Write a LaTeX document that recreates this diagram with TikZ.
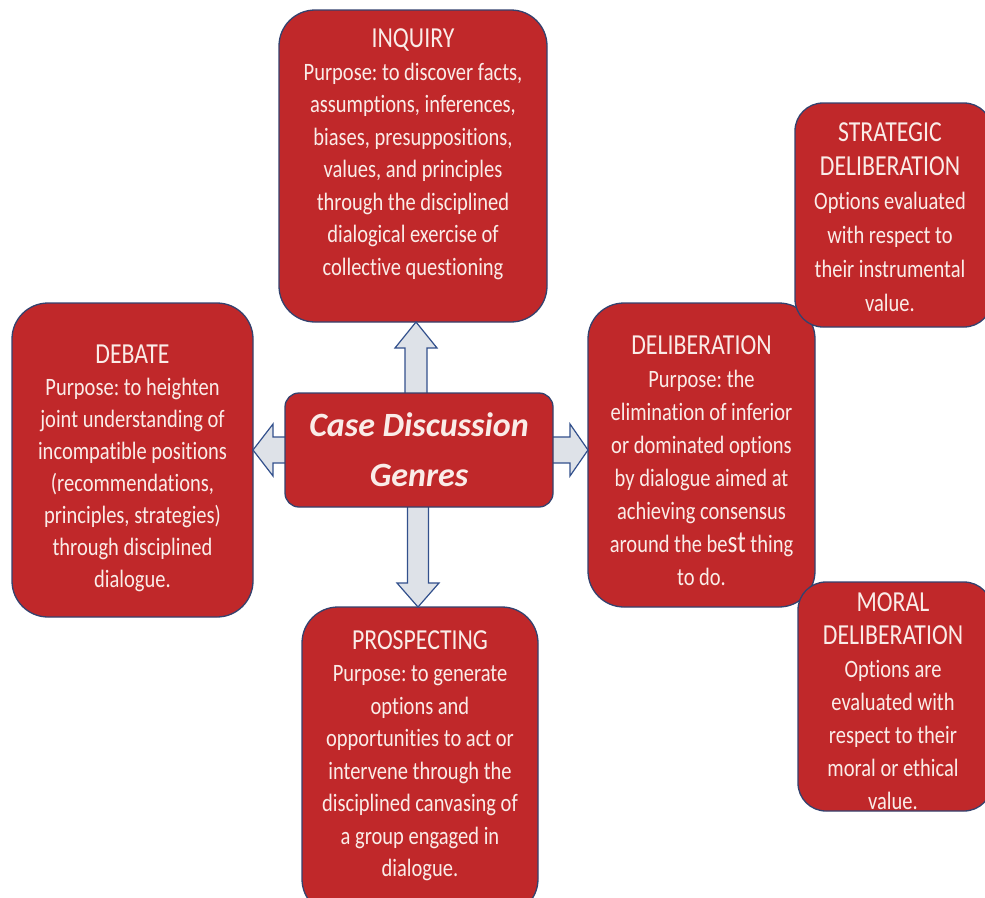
\documentclass[tikz,border=0pt]{standalone}
\usepackage{fontspec}
\setmainfont{Carlito}[FakeStretch=0.82, Ligatures={NoCommon}]
\newfontfamily\centrefont{Carlito}[Ligatures={NoCommon}]
\usetikzlibrary{calc}
\definecolor{boxred}{RGB}{192,40,42}
\definecolor{boxedge}{RGB}{52,66,110}
\definecolor{boxtext}{RGB}{250,236,232}
\definecolor{arrowfill}{RGB}{222,226,232}
\definecolor{arrowedge}{RGB}{50,80,140}
\frenchspacing
\begin{document}
\begin{tikzpicture}[x=1pt,y=-1pt,
  genre/.style={draw=boxedge, line width=1.3pt, fill=boxred, rounded corners=36pt,
    inner sep=0pt, outer sep=0pt},
  genretext/.style={text=boxtext, align=center, inner sep=0pt, anchor=north},
  blockarrow/.style={draw=arrowedge, line width=1.2pt, fill=arrowfill, line join=miter}]
\useasboundingbox (0,0) rectangle (985,897);
\clip (0,0) rectangle (985,897);

% genre boxes
\node[genre, minimum width=268pt, minimum height=312pt] (inq)    at (413,166) {};
\node[genre, minimum width=241pt, minimum height=314pt] (debate) at (132.5,460) {};
\node[genre, minimum width=227pt, minimum height=304pt] (delib)  at (701.5,455) {};
\node[genre, minimum width=236pt, minimum height=308pt] (prosp)  at (420,761) {};
\node[genre, minimum width=197pt, minimum height=224pt, rounded corners=28pt] (strat) at (893.5,215) {};
\node[genre, minimum width=194pt, minimum height=229pt, rounded corners=28pt] (moral) at (895,696.5) {};

% centre box (placed first so the arrows can refer to it, redrawn on top below)
\path (419,450) node[minimum width=268pt, minimum height=114pt, inner sep=0pt, outer sep=0pt] (ctr) {};

% block arrows from the centre box to the genres
\draw[blockarrow] ($(ctr.north)+(-14,4)$) -- ($(inq.south -| ctr.north)+(-14,26)$) -- ++(-10,0)
  -- ($(inq.south -| ctr.north)+(-3,0)$) -- ($(inq.south -| ctr.north)+(18,26)$) -- ++(-10,0)
  -- ($(ctr.north)+(8,4)$) -- cycle;
\draw[blockarrow] ($(ctr.south)+(-11.5,-4)$) -- ($(prosp.north -| ctr.south)+(-11.5,-24)$) -- ++(-10.5,0)
  -- ($(prosp.north -| ctr.south)+(-1,0)$) -- ($(prosp.north -| ctr.south)+(20,-24)$) -- ++(-10.5,0)
  -- ($(ctr.south)+(9.5,-4)$) -- cycle;
\draw[blockarrow] ($(ctr.west)+(4,-13)$) -- ($(debate.east |- ctr.west)+(20,-13)$) -- ++(0,-13)
  -- (debate.east |- ctr.west) -- ($(debate.east |- ctr.west)+(20,26)$) -- ++(0,-13)
  -- ($(ctr.west)+(4,13)$) -- cycle;
\draw[blockarrow] ($(ctr.east)+(-4,-13)$) -- ($(delib.west |- ctr.east)+(-18,-13)$) -- ++(0,-13)
  -- (delib.west |- ctr.east) -- ($(delib.west |- ctr.east)+(-18,26)$) -- ++(0,-13)
  -- ($(ctr.east)+(-4,13)$) -- cycle;

% centre box
\draw[genre, rounded corners=14pt] (ctr.north west) rectangle (ctr.south east);
\node[text=boxtext, align=center, font=\centrefont\fontsize{34}{50}\selectfont\bfseries\itshape] (ctrtext) at (ctr.center)
  {Case Discussion\\Genres};

% genre texts
\node[genretext, font=\fontsize{25}{32.5}\selectfont] (inqtext) at (inq.north |- 0,28.5)
  {{\fontsize{29}{32.5}\selectfont INQUIRY}\\
   Purpose: to discover facts,\\
   assumptions, inferences,\\
   biases, presuppositions,\\
   values, and principles\\
   through the disciplined\\
   dialogical exercise of\\
   collective questioning};

\node[genretext, font=\fontsize{25}{32}\selectfont] (debatetext) at (debate.north |- 0,345)
  {{\fontsize{29}{32}\selectfont DEBATE}\\
   Purpose: to heighten\\
   joint understanding of\\
   incompatible positions\\
   (recommendations,\\
   principles, strategies)\\
   through disciplined\\
   dialogue.};

\node[genretext, font=\fontsize{25}{33}\selectfont] (delibtext) at (delib.north |- 0,335)
  {{\fontsize{29}{33}\selectfont DELIBERATION}\\
   Purpose: the\\
   elimination of inferior\\
   or dominated options\\
   by dialogue aimed at\\
   achieving consensus\\
   around the be{\fontsize{31}{33}\selectfont st} thing\\
   to do.};

\node[genretext, font=\fontsize{25}{32.5}\selectfont] (prosptext) at (prosp.north |- 0,630)
  {{\fontsize{29}{32.5}\selectfont PROSPECTING}\\
   Purpose: to generate\\
   options and\\
   opportunities to act or\\
   intervene through the\\
   disciplined canvasing of\\
   a group engaged in\\
   dialogue.};

\node[genretext, font=\fontsize{25}{34}\selectfont] (strattext) at (890,122)
  {{\fontsize{29}{34}\selectfont STRATEGIC}\\
   {\fontsize{29}{34}\selectfont DELIBERATION}\\
   Options evaluated\\
   with respect to\\
   their instrumental\\
   value.};

\node[genretext, font=\fontsize{25}{33}\selectfont] (moraltext) at (893,592)
  {{\fontsize{29}{33}\selectfont MORAL}\\
   {\fontsize{29}{33}\selectfont DELIBERATION}\\
   Options are\\
   evaluated with\\
   respect to their\\
   moral or ethical\\
   value.};
\end{tikzpicture}
\end{document}
